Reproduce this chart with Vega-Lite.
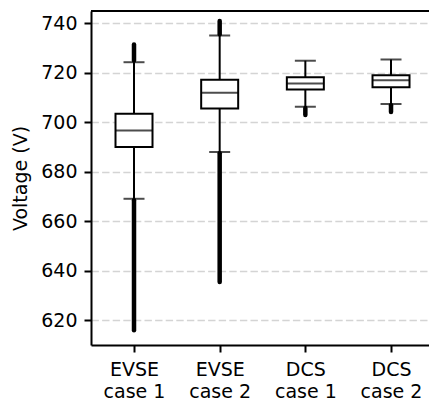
{
  "$schema": "https://vega.github.io/schema/vega-lite/v6.json",
  "width": 338,
  "height": 334,
  "autosize": {"type": "none"},
  "padding": {"left": 91, "top": 11, "right": 0, "bottom": 57},
  "config": {
    "font": "DejaVu Sans",
    "view": {"stroke": null},
    "axis": {
      "domainColor": "black", "domainWidth": 2, "tickColor": "black", "tickWidth": 2,
      "tickSize": 7, "labelColor": "black", "labelFontSize": 19, "titleColor": "black",
      "titleFontSize": 19, "titleFontWeight": "normal"
    }
  },
  "data": {
    "values": [
      {"group": "EVSE case 1", "wlo": 669.1, "q1": 690.0, "med": 696.7, "q3": 703.5, "whi": 724.3, "olo_min": 616.0, "olo_max": 668.5, "ohi_min": 725.0, "ohi_max": 731.5},
      {"group": "EVSE case 2", "wlo": 688.0, "q1": 705.6, "med": 712.0, "q3": 717.2, "whi": 735.1, "olo_min": 635.5, "olo_max": 687.5, "ohi_min": 735.6, "ohi_max": 741.0},
      {"group": "DCS case 1", "wlo": 706.3, "q1": 713.3, "med": 715.7, "q3": 718.2, "whi": 724.9, "olo_min": 703.0, "olo_max": 705.8, "ohi_min": null, "ohi_max": null},
      {"group": "DCS case 2", "wlo": 707.4, "q1": 714.2, "med": 717.0, "q3": 719.0, "whi": 725.4, "olo_min": 704.2, "olo_max": 706.9, "ohi_min": null, "ohi_max": null}
    ]
  },
  "layer": [
    {
      "encoding": {
        "x": {
          "field": "group", "type": "nominal",
          "sort": ["EVSE case 1", "EVSE case 2", "DCS case 1", "DCS case 2"],
          "scale": {"type": "point", "padding": 0.4727, "align": 0.531},
          "axis": {
            "title": null, "labelAngle": 0, "grid": false,
            "labelExpr": "[slice(datum.label, 0, indexof(datum.label, ' ')), slice(datum.label, indexof(datum.label, ' ') + 1)]",
            "labelLineHeight": 22, "labelPadding": 8, "labelBaseline": "top"
          }
        }
      },
      "layer": [
        {
          "mark": {"type": "rule", "color": "black", "strokeWidth": 2},
          "encoding": {
            "y": {
              "field": "wlo", "type": "quantitative",
              "scale": {"domain": [610, 745], "nice": false, "zero": false},
              "axis": {
                "title": "Voltage (V)", "values": [620, 640, 660, 680, 700, 720, 740],
                "grid": true, "gridColor": "#d4d4d4", "gridDash": [7.4, 3.2], "gridWidth": 1.6,
                "labelPadding": 7, "titlePadding": 10
              }
            },
            "y2": {"field": "whi"}
          }
        },
        {
          "mark": {"type": "rule", "color": "black", "strokeWidth": 4.5, "strokeCap": "round"},
          "encoding": {"y": {"field": "olo_min", "type": "quantitative"}, "y2": {"field": "olo_max"}}
        },
        {
          "mark": {"type": "rule", "color": "black", "strokeWidth": 4.5, "strokeCap": "round"},
          "encoding": {"y": {"field": "ohi_min", "type": "quantitative"}, "y2": {"field": "ohi_max"}}
        },
        {
          "mark": {"type": "bar", "width": 37, "fill": "white", "stroke": "black", "strokeWidth": 2},
          "encoding": {"y": {"field": "q1", "type": "quantitative"}, "y2": {"field": "q3"}}
        },
        {
          "mark": {"type": "tick", "orient": "horizontal", "size": 37, "thickness": 2, "color": "black"},
          "encoding": {"y": {"field": "med", "type": "quantitative"}}
        },
        {
          "mark": {"type": "tick", "orient": "horizontal", "size": 21, "thickness": 2, "color": "black"},
          "encoding": {"y": {"field": "wlo", "type": "quantitative"}}
        },
        {
          "mark": {"type": "tick", "orient": "horizontal", "size": 21, "thickness": 2, "color": "black"},
          "encoding": {"y": {"field": "whi", "type": "quantitative"}}
        }
      ]
    },
    {
      "data": {"values": [{}]},
      "mark": {"type": "rule", "color": "black", "strokeWidth": 2},
      "encoding": {"y": {"datum": 745, "type": "quantitative"}}
    }
  ]
}
